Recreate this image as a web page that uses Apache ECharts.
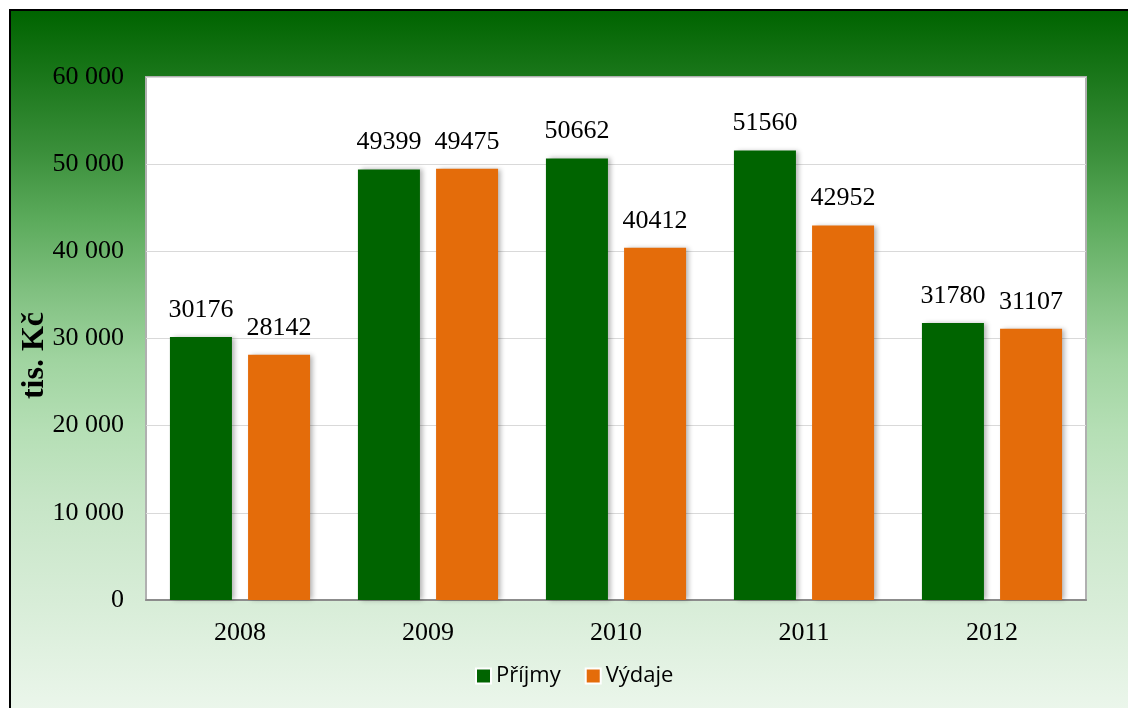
<!DOCTYPE html>
<html>
<head>
<meta charset="utf-8">
<script src="https://cdn.jsdelivr.net/npm/echarts@6/dist/echarts.min.js"></script>
<style>
    html, body { margin: 0; padding: 0; background: #ffffff; }
    #frame {
        position: absolute; left: 9px; top: 9px; width: 1119px; height: 699px;
        border-top: 2px solid #000; border-left: 2px solid #000;
        background: linear-gradient(to bottom, #006400 0%, #1c781c 10%, #3a8f3a 20%, #5cab5c 30%,
            #80c080 40%, #a0d4a0 50%, #b5dfb5 60%, #c6e5c6 70%, #d8edd8 85%, #ebf6eb 100%);
    }
    #chart { width: 1117px; height: 697px; }
</style>
</head>
<body>
<div id="frame"><div id="chart"></div></div>
<script>
    // data
    const years = ['2008', '2009', '2010', '2011', '2012'];
    const prijmy = [30176, 49399, 50662, 51560, 31780];
    const vydaje = [28142, 49475, 40412, 42952, 31107];
    const seriesNames = ['Příjmy', 'Výdaje'];

    const serif = '"Liberation Serif", "DejaVu Serif", serif';
    const labelStyle = {
        'show': true,
        'position': 'top',
        'distance': 14,
        'color': '#000',
        'fontFamily': serif,
        'fontSize': 26
    };

    let myChart = echarts.init(document.getElementById('chart'));
    myChart.setOption({
        'animation': false,
        'grid': {
            'left': 135,
            'right': 42,
            'top': 66,
            'bottom': 108,
            'outerBoundsMode': 'none',
            'containLabel': false,
            'show': true,
            'backgroundColor': '#ffffff',
            'borderColor': '#b0b0b0',
            'borderWidth': 2
        },
        'legend': {
            'data': seriesNames,
            'bottom': 16,
            'left': 459,
            'itemWidth': 15,
            'itemHeight': 15,
            'itemGap': 24,
            'icon': 'rect',
            'itemStyle': { 'borderColor': '#fff', 'borderWidth': 2 },
            'textStyle': {
                'fontFamily': '"Open Sans", "DejaVu Sans", sans-serif',
                'fontSize': 22,
                'color': '#000'
            }
        },
        'xAxis': {
            'type': 'category',
            'data': years,
            'axisTick': { 'show': false },
            'axisLine': { 'lineStyle': { 'color': '#8c8c8c', 'width': 2 } },
            'axisLabel': {
                'color': '#000',
                'fontFamily': serif,
                'fontSize': 26,
                'margin': 20
            }
        },
        'yAxis': {
            'type': 'value',
            'min': 0,
            'max': 60000,
            'interval': 10000,
            'name': 'tis. Kč',
            'nameLocation': 'middle',
            'nameGap': 95,
            'nameMoveOverlap': false,
            'nameTextStyle': {
                'color': '#000',
                'fontFamily': serif,
                'fontSize': 32,
                'fontWeight': 'bold',
                'padding': [0, 34, 0, 0]
            },
            'axisLine': { 'show': false },
            'axisTick': { 'show': false },
            'splitLine': { 'lineStyle': { 'color': '#d9d9d9', 'width': 1 } },
            'axisLabel': {
                'color': '#000',
                'fontFamily': serif,
                'fontSize': 26,
                'margin': 22,
                'formatter': (v) => v === 0 ? '0' : String(v).replace(/\B(?=(\d{3})+(?!\d))/g, ' ')
            }
        },
        'series': [{
            'name': seriesNames[0],
            'type': 'bar',
            'data': prijmy,
            'barWidth': 62,
            'barGap': '26%',
            'itemStyle': {
                'color': '#006400',
                'shadowColor': 'rgba(0,0,0,0.3)',
                'shadowBlur': 5,
                'shadowOffsetX': 3
            },
            'label': labelStyle
        }, {
            'name': seriesNames[1],
            'type': 'bar',
            'data': vydaje,
            'barWidth': 62,
            'itemStyle': {
                'color': '#e46c0a',
                'shadowColor': 'rgba(0,0,0,0.3)',
                'shadowBlur': 5,
                'shadowOffsetX': 3
            },
            'label': labelStyle
        }]
    });
</script>
</body>
</html>
